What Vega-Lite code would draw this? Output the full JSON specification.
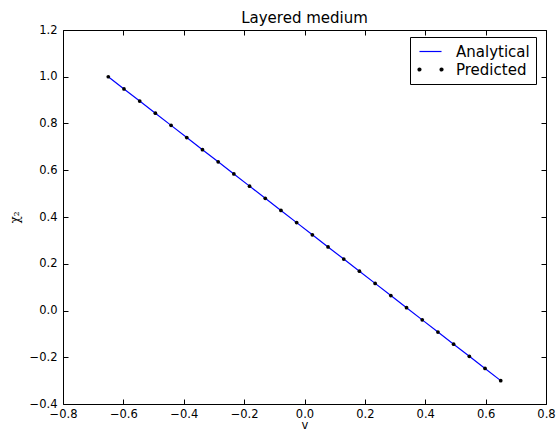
{
  "$schema": "https://vega.github.io/schema/vega-lite/v6.json",
  "width": 483,
  "height": 374,
  "autosize": "none",
  "padding": {"left": 63, "top": 30, "right": 12, "bottom": 27},
  "background": "white",
  "title": {"text": "Layered medium", "fontSize": 15, "fontWeight": "normal", "font": "DejaVu Sans", "color": "black", "offset": -2},
  "config": {
    "view": {"stroke": "black", "strokeWidth": 1},
    "font": "DejaVu Sans",
    "axis": {"grid": false, "domain": false, "tickColor": "black", "tickSize": -5, "labelColor": "black", "labelFontSize": 11.5, "titleFont": "DejaVu Sans", "titleFontWeight": "normal", "titleColor": "black", "titleFontSize": 12}
  },
  "data": {"values": [
    {"v": -0.65, "chi": 1.0},
    {"v": -0.598, "chi": 0.948},
    {"v": -0.546, "chi": 0.896},
    {"v": -0.494, "chi": 0.844},
    {"v": -0.442, "chi": 0.792},
    {"v": -0.39, "chi": 0.74},
    {"v": -0.338, "chi": 0.688},
    {"v": -0.286, "chi": 0.636},
    {"v": -0.234, "chi": 0.584},
    {"v": -0.182, "chi": 0.532},
    {"v": -0.13, "chi": 0.48},
    {"v": -0.078, "chi": 0.428},
    {"v": -0.026, "chi": 0.376},
    {"v": 0.026, "chi": 0.324},
    {"v": 0.078, "chi": 0.272},
    {"v": 0.13, "chi": 0.22},
    {"v": 0.182, "chi": 0.168},
    {"v": 0.234, "chi": 0.116},
    {"v": 0.286, "chi": 0.064},
    {"v": 0.338, "chi": 0.012},
    {"v": 0.39, "chi": -0.04},
    {"v": 0.442, "chi": -0.092},
    {"v": 0.494, "chi": -0.144},
    {"v": 0.546, "chi": -0.196},
    {"v": 0.598, "chi": -0.248},
    {"v": 0.65, "chi": -0.3}
  ]},
  "layer": [
    {
      "mark": {"type": "line", "strokeWidth": 1.2, "clip": true},
      "encoding": {
        "x": {"field": "v", "type": "quantitative", "scale": {"domain": [-0.8, 0.8], "nice": false, "zero": false},
              "axis": {"values": [-0.8, -0.6, -0.4, -0.2, 0, 0.2, 0.4, 0.6, 0.8], "format": ".1f", "title": "v", "labelPadding": 9, "titlePadding": 0, "titleFontSize": 11.5, "labelFlush": false, "labelOverlap": false}},
        "y": {"field": "chi", "type": "quantitative", "scale": {"domain": [-0.4, 1.2], "nice": false, "zero": false},
              "axis": {"values": [-0.4, -0.2, 0, 0.2, 0.4, 0.6, 0.8, 1.0, 1.2], "format": ".1f", "title": "χ₂", "titleFont": "DejaVu Serif", "labelPadding": 11, "titlePadding": 8, "labelFlush": false, "labelOverlap": false}},
        "color": {"datum": "Analytical", "type": "nominal",
          "scale": {"domain": ["Analytical", "Predicted"], "range": ["#0000ff", "#000000"]},
          "legend": {
            "title": null, "orient": "none", "legendX": 347, "legendY": 7,
            "strokeColor": "black", "fillColor": "white", "padding": 6,
            "labelFontSize": 15, "labelFont": "DejaVu Sans", "labelColor": "black", "labelOffset": 17,
            "rowPadding": 1, "symbolSize": 225, "symbolOffset": 6,
            "encode": {"symbols": {"update": {
              "shape": {"signal": "datum.value === 'Analytical' ? 'M-1.47,0L1.47,0' : 'M-1.67,0a0.2,0.2 0 1,0 0.4,0a0.2,0.2 0 1,0 -0.4,0ZM1.27,0a0.2,0.2 0 1,0 0.4,0a0.2,0.2 0 1,0 -0.4,0Z'"},
              "stroke": {"scale": "color", "field": "value"},
              "fill": {"signal": "datum.value === 'Analytical' ? 'transparent' : 'black'"},
              "strokeWidth": {"value": 1.2},
              "size": {"value": 225},
              "opacity": {"value": 1},
              "strokeOpacity": {"value": 1}
            }}}
          }}
      }
    },
    {
      "mark": {"type": "point", "filled": true, "size": 14, "opacity": 1},
      "encoding": {
        "x": {"field": "v", "type": "quantitative", "axis": {"orient": "top", "values": [-0.8, -0.6, -0.4, -0.2, 0, 0.2, 0.4, 0.6, 0.8], "labels": false, "title": null}},
        "y": {"field": "chi", "type": "quantitative", "axis": {"orient": "right", "values": [-0.4, -0.2, 0, 0.2, 0.4, 0.6, 0.8, 1.0, 1.2], "labels": false, "title": null}},
        "color": {"datum": "Predicted", "type": "nominal"}
      }
    }
  ],
  "resolve": {"axis": {"x": "independent", "y": "independent"}}
}
